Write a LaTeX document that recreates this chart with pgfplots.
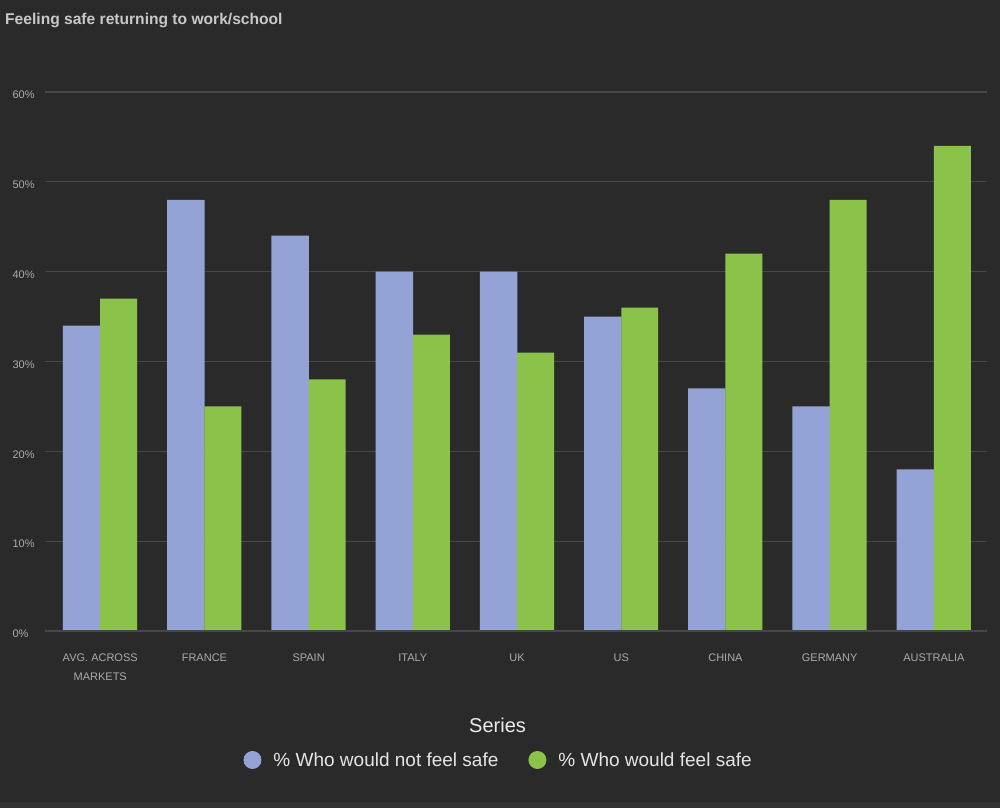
\documentclass[border=0pt]{standalone}
\usepackage{pgfplots}
\pgfplotsset{compat=1.18}
\usepackage{fontspec}
\setmainfont{Liberation Sans}

\definecolor{bg}{HTML}{2A2A2A}
\definecolor{bgstrip}{HTML}{333333}
\definecolor{gridc}{HTML}{474747}
\definecolor{tickc}{HTML}{ABABAB}
\definecolor{titlec}{HTML}{C8C8C8}
\definecolor{notsafe}{HTML}{94A3D6}
\definecolor{safe}{HTML}{8BC34A}

\begin{document}
\begin{tikzpicture}[x=1pt,y=1pt]
\fill[bg] (0,0) rectangle (1000,808);
\fill[bgstrip] (0,0) rectangle (1000,6);
\node[anchor=base west, inner sep=0pt, font=\fontsize{15.6}{18}\selectfont\bfseries, text=titlec]
  at (5,783) {Feeling safe returning to work/school};

\begin{axis}[
    at={(45pt,177pt)}, anchor=south west,
    scale only axis,
    width=942pt, height=539pt,
    xmin=-0.53, xmax=8.51,
    ymin=0, ymax=60,
    ybar, bar width=0.36,
    axis line style={draw=none},
    axis x line*=bottom,
    xtick=data,
    xticklabels={{AVG. ACROSS\\MARKETS}, FRANCE, SPAIN, ITALY, UK, US, CHINA, GERMANY, AUSTRALIA},
    xticklabel style={align=center, text=tickc, font=\fontsize{11}{19}\selectfont, yshift=-19pt},
    ytick={0,10,...,60},
    yticklabel={\pgfmathprintnumber{\tick}\%},
    yticklabel style={anchor=west, xshift=-36pt, yshift=-3pt, text=tickc, font=\fontsize{11}{13}\selectfont},
    /pgf/number format/assume math mode=true,
    major tick length=0pt,
    ymajorgrids, grid style={gridc, line width=1.2pt},
    legend columns=2,
    legend style={at={(axis description cs:0.4815,-0.2393)}, anchor=center,
        draw=none, fill=none, text=white!90!black,
        font=\fontsize{19}{22}\selectfont,
        /tikz/every even column/.append style={column sep=28pt}},
    legend cell align=left,
    clip=false,
]
\addplot[fill=notsafe, draw=none, bar shift=-0.1775,
    legend image code/.code={\fill[notsafe] (0pt,0pt) circle (9pt); \path (19pt,0pt);}]
    coordinates {(0,34) (1,48) (2,44) (3,40) (4,40) (5,35) (6,27) (7,25) (8,18)};
\addlegendentry{\% Who would not feel safe}
\addplot[fill=safe, draw=none, bar shift=0.1775, bar width=0.355,
    legend image code/.code={\fill[safe] (0pt,0pt) circle (9pt); \path (19pt,0pt);}]
    coordinates {(0,37) (1,25) (2,28) (3,33) (4,31) (5,36) (6,42) (7,48) (8,54)};
\addlegendentry{\% Who would feel safe}
\draw[gridc, line width=1.2pt] (axis cs:-0.53,0) -- (axis cs:8.51,0);
\node[font=\fontsize{20}{22}\selectfont, text=white!92!black]
  at (axis description cs:0.4804,-0.1744) {Series};
\end{axis}
\pgfresetboundingbox
\path (0,0) rectangle (1000,808);
\end{tikzpicture}
\end{document}
